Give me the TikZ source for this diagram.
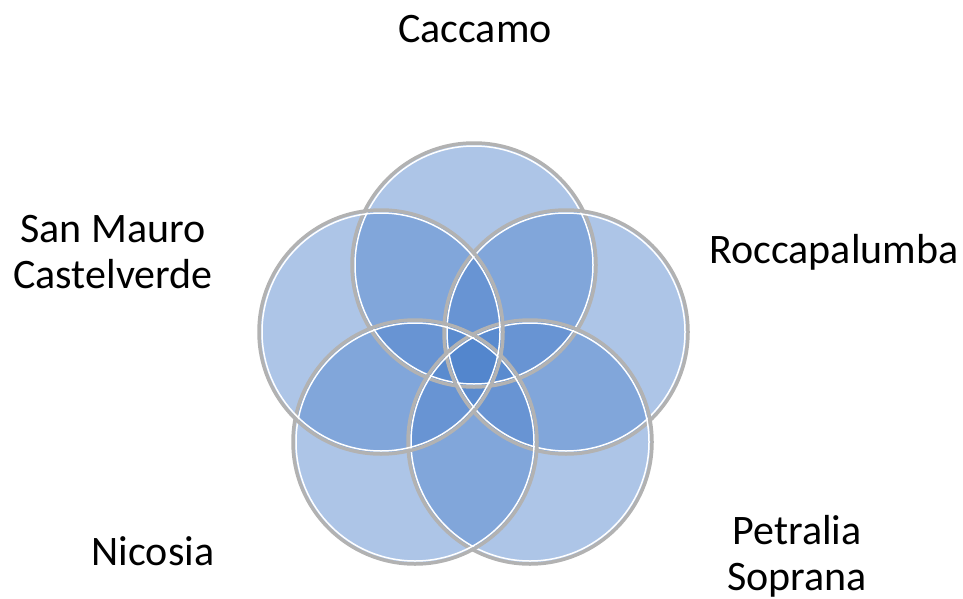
\documentclass[tikz,border=0pt]{standalone}
\usepackage{fontspec}
\setmainfont{Carlito}
\definecolor{venn}{RGB}{74,127,202}

\begin{document}
\begin{tikzpicture}[x=1pt,y=-1pt,
    disc/.style={circle,inner sep=0pt,minimum size=244pt,fill=venn,fill opacity=0.45},
    rim/.style={circle,inner sep=0pt,minimum size=244pt,draw=gray!60,line width=3.5pt},
    glint/.style={circle,inner sep=0pt,minimum size=238pt,draw=white,line width=1.5pt},
    town/.style={font=\fontsize{42}{46}\selectfont,align=center,inner sep=0pt,anchor=base}]
  \useasboundingbox (0,0) rectangle (963,599);
  % the five sets
  \foreach \n/\x/\y in {caccamo/474/265,rocca/566/332,petralia/530/442,nicosia/415/442,sanmauro/381/332}
    \node[disc] (\n) at (\x,\y) {};
  \foreach \n in {caccamo,rocca,petralia,nicosia,sanmauro}{
    \node[rim] at (\n) {};
    \node[glint] at (\n) {};
  }
  % names (base = last line)
  \node[town] (lcaccamo) at (475,43) {Caccamo};
  \node[town] (lrocca) at (834,263) {Roccapalumba};
  \node[town] (lpetralia) at (797,590) {Petralia\\Soprana};
  \node[town] (lnicosia) at (153,565) {Nicosia};
  \node[town] (lsanmauro) at (113,288) {San Mauro\\Castelverde};
\end{tikzpicture}
\end{document}
